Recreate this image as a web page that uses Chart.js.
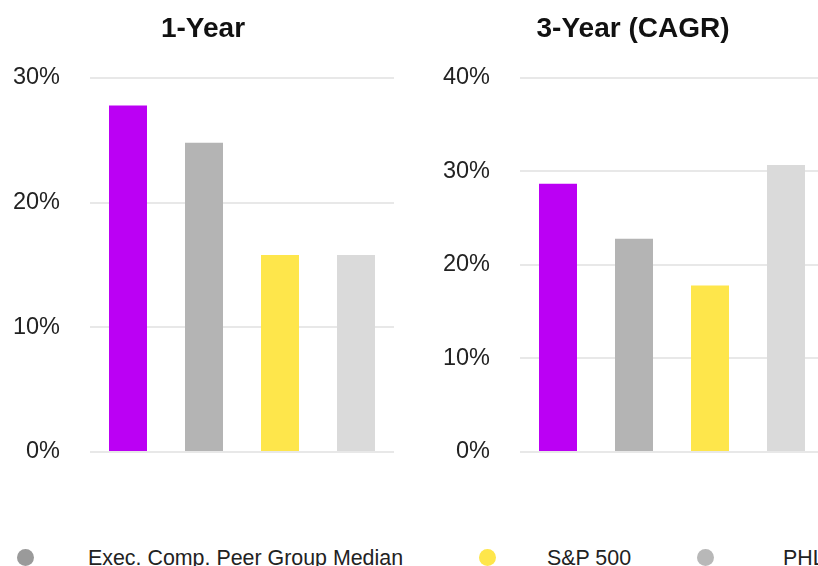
<!DOCTYPE html>
<html>
<head>
<meta charset="utf-8">
<script src="https://cdn.jsdelivr.net/npm/chart.js@4/dist/chart.umd.min.js"></script>
<style>
    html, body { margin: 0; padding: 0; background: #fff; }
    body { width: 818px; height: 566px; overflow: hidden; position: relative; font-family: "Liberation Sans", Arial, sans-serif; }
    .box { position: absolute; top: 0; width: 398px; height: 496px; }
    #left { left: 0; }
    #right { left: 430px; }
    .legend { position: absolute; top: 545px; left: 0; width: 1200px; height: 26px; font-size: 21.4px; color: #222; }
    .legend .dot { position: absolute; top: 4px; width: 17px; height: 17px; border-radius: 50%; }
    .legend .txt { position: absolute; top: 0; line-height: 26px; white-space: nowrap; }
</style>
</head>
<body>
<div class="box" id="left"><canvas id="grafico1"></canvas></div>
<div class="box" id="right"><canvas id="grafico2"></canvas></div>
<div class="legend" id="legenda"></div>

<script>
// dados do gráfico
const categorias = ['Company', 'Exec. Comp. Peer Group Median', 'S&P 500', 'PHLX Semiconductor Index'];
const umAno = [27.8, 24.8, 15.8, 15.8];
const tresAnos = [28.7, 22.8, 17.8, 30.7];
const ticksUmAno = [0, 10, 20, 30];
const ticksTresAnos = [0, 10, 20, 30, 40];
const coresBarras = ['#bb00f4', '#b4b4b4', '#fee64b', '#dadada'];

// legenda (só os itens que aparecem)
const legendaItens = [
    { texto: 'Exec. Comp. Peer Group Median', cor: '#9a9a9a', dot: 17, txt: 88 },
    { texto: 'S&P 500', cor: '#fee64b', dot: 479, txt: 547 },
    { texto: 'PHLX Semiconductor Index', cor: '#b8b8b8', dot: 697, txt: 783 }
];

const legenda = document.getElementById('legenda');
legendaItens.forEach(item => {
    const d = document.createElement('div');
    d.className = 'dot';
    d.style.left = item.dot + 'px';
    d.style.background = item.cor;
    legenda.appendChild(d);
    const t = document.createElement('div');
    t.className = 'txt';
    t.style.left = item.txt + 'px';
    t.textContent = item.texto;
    legenda.appendChild(t);
});

function criarGrafico(id, titulo, valores, ticks) {
    const ctx = document.getElementById(id).getContext('2d');
    return new Chart(ctx, {
        type: 'bar',
        data: {
            labels: categorias,
            datasets: [{
                data: valores,
                backgroundColor: coresBarras,
                barPercentage: 0.5,
                categoryPercentage: 1.0
            }]
        },
        options: {
            responsive: true,
            maintainAspectRatio: false,
            animation: false,
            // padding esquerdo desloca só o título; o eixo compensa na largura
            layout: { padding: { left: 12, right: 4, top: 0, bottom: 19 } },
            plugins: {
                legend: { display: false },
                tooltip: { enabled: false },
                title: {
                    display: true,
                    text: titulo,
                    color: '#111',
                    font: { family: 'Liberation Sans, Arial', size: 28, weight: 'bold' },
                    padding: { top: 12, bottom: 32.4 }
                }
            },
            scales: {
                x: {
                    ticks: { display: false },
                    grid: { display: false },
                    border: { display: false }
                },
                y: {
                    min: 0,
                    max: ticks[ticks.length - 1],
                    afterBuildTicks: scale => { scale.ticks = ticks.map(v => ({ value: v })); },
                    afterFit: scale => { scale.width = 78; },
                    ticks: {
                        padding: 30,
                        color: '#222',
                        font: { family: 'Liberation Sans, Arial', size: 23.5 },
                        callback: v => v + '%'
                    },
                    grid: { color: '#e8e8e8', lineWidth: 2, drawTicks: false },
                    border: { display: false }
                }
            }
        }
    });
}

criarGrafico('grafico1', '1-Year', umAno, ticksUmAno);
criarGrafico('grafico2', '3-Year (CAGR)', tresAnos, ticksTresAnos);
</script>
</body>
</html>
